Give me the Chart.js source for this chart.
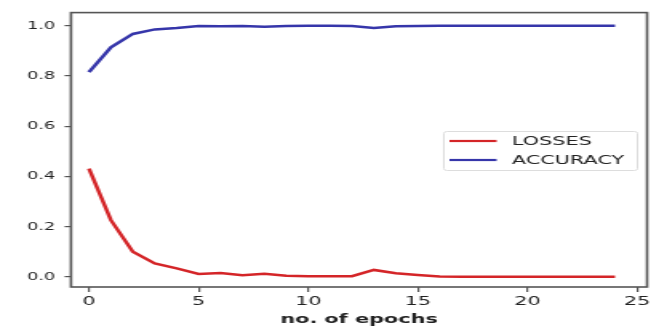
<!DOCTYPE html>
<html>
<head>
<meta charset="utf-8">
<script src="https://cdn.jsdelivr.net/npm/chart.js"></script>
<style>
  html, body { margin: 0; padding: 0; background: #fff; }
  #wrap { width: 659px; height: 327px; position: relative; overflow: hidden; }
  /* the source figure is stretched sideways, so the canvas is too */
  #chart { position: absolute; left: 0; top: 0; transform-origin: 0 0; }
</style>
</head>
<body>
<div id="wrap"><canvas id="chart" width="412" height="327"></canvas></div>
<script>
// values
const epochs = [0,1,2,3,4,5,6,7,8,9,10,11,12,13,14,15,16,17,18,19,20,21,22,23,24];
const losses = [0.431,0.226,0.100,0.054,0.034,0.012,0.016,0.007,0.013,0.005,0.003,0.003,0.003,0.028,0.015,0.008,0.002,0.001,0.001,0.001,0.001,0.001,0.001,0.001,0.001];
const accuracy = [0.815,0.914,0.967,0.985,0.991,0.999,0.998,0.999,0.996,0.999,1.0,1.0,0.999,0.991,0.998,0.999,1.0,1.0,1.0,1.0,1.0,1.0,1.0,1.0,1.0];
const xTicks = [0,5,10,15,20,25];
const yTicks = [0,0.2,0.4,0.6,0.8,1.0];
const seriesNames = ['LOSSES', 'ACCURACY'];
const seriesColors = ['#d42528', '#3636aa'];

const FONT = '"DejaVu Sans", sans-serif';
const AXIS = '#555555';
const TEXT = '#222222';
const STRETCH = 659 / 412;

const canvas = document.getElementById('chart');
canvas.style.transform = `scaleX(${STRETCH})`;

// box frame around the plot (matplotlib spines)
const frame = {
    id: 'frame',
    afterDraw(chart) {
        const { ctx, chartArea: a } = chart;
        ctx.save();
        ctx.strokeStyle = AXIS;
        ctx.lineWidth = 1.6;
        ctx.strokeRect(a.left, a.top, a.right - a.left, a.bottom - a.top);
        ctx.restore();
    }
};

// legend box inside the plot, right middle
const boxLegend = {
    id: 'boxLegend',
    afterDraw(chart) {
        const { ctx } = chart;
        const x = 277.5, y = 131, w = 121, h = 39;
        ctx.save();
        ctx.fillStyle = 'rgba(255,255,255,0.9)';
        ctx.strokeStyle = '#dddddd';
        ctx.lineWidth = 1;
        ctx.beginPath();
        ctx.roundRect(x, y + 0.5, w, h, 2);
        ctx.fill();
        ctx.stroke();
        ctx.font = '13px ' + FONT;
        ctx.textBaseline = 'middle';
        chart.data.datasets.forEach((ds, i) => {
            const cy = y + 10 + i * 19;
            ctx.strokeStyle = ds.borderColor;
            ctx.lineWidth = 2.2;
            ctx.beginPath();
            ctx.moveTo(x + 3.5, cy);
            ctx.lineTo(x + 33, cy);
            ctx.stroke();
            ctx.fillStyle = TEXT;
            ctx.fillText(ds.label, x + 42.5, cy + 1);
        });
        ctx.restore();
    }
};

new Chart(canvas, {
    type: 'line',
    data: {
        datasets: [
            { label: seriesNames[0], data: epochs.map((e, i) => ({ x: e, y: losses[i] })), borderColor: seriesColors[0] },
            { label: seriesNames[1], data: epochs.map((e, i) => ({ x: e, y: accuracy[i] })), borderColor: seriesColors[1] },
        ].map(d => ({ ...d, backgroundColor: 'transparent', borderWidth: 2.5, pointRadius: 0, tension: 0 })),
    },
    options: {
        responsive: false,
        animation: false,
        devicePixelRatio: 1,
        layout: { padding: { left: 0, right: 7.5, top: 12, bottom: 0 } },
        plugins: { legend: { display: false }, tooltip: { enabled: false } },
        scales: {
            x: {
                type: 'linear',
                min: -0.82,
                max: 25.46,
                afterBuildTicks: (s) => { s.ticks = xTicks.map(v => ({ value: v })); },
                afterFit: (s) => { s.height = 40; },
                grid: { drawOnChartArea: false, drawTicks: true, tickLength: 5, color: AXIS, lineWidth: 1.2 },
                border: { display: false },
                ticks: { color: TEXT, font: { size: 13, family: FONT }, padding: 2, maxRotation: 0 },
                title: { display: true, text: 'no. of epochs', color: TEXT, font: { size: 13, family: FONT, weight: 'bold' }, padding: { top: 0, bottom: 0 } },
            },
            y: {
                min: -0.04,
                max: 1.052,
                afterBuildTicks: (s) => { s.ticks = yTicks.map(v => ({ value: v })); },
                afterFit: (s) => { s.width = 44.4; },
                grid: { drawOnChartArea: false, drawTicks: true, tickLength: 4, color: AXIS, lineWidth: 1.2 },
                border: { display: false },
                ticks: { color: TEXT, font: { size: 11, family: FONT }, padding: 6, callback: (v) => v.toFixed(1) },
            },
        },
    },
    plugins: [frame, boxLegend],
});
</script>
</body>
</html>
